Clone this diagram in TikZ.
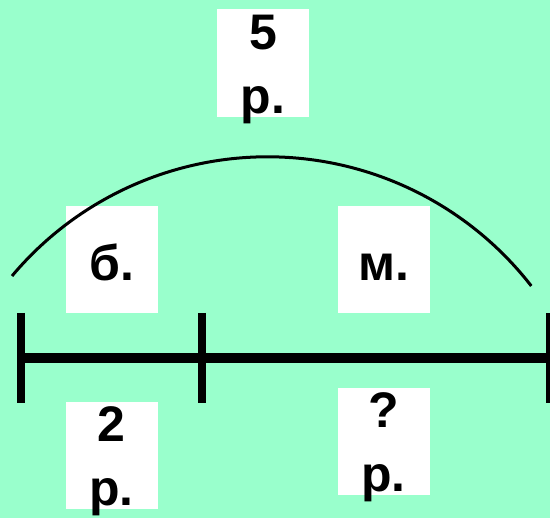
\documentclass[tikz,border=0pt]{standalone}
\usepackage{fontspec}
\setmainfont{Liberation Sans}
\usetikzlibrary{positioning}
\definecolor{mint}{RGB}{153,255,204}

\begin{document}
\begin{tikzpicture}[x=1pt,y=-1pt,
  box/.style={fill=white,minimum width=92pt,minimum height=107pt,inner sep=0pt},
  lbl/.style={font=\bfseries\fontsize{50}{64}\selectfont,align=center,inner sep=0pt},
  bar/.style={line width=10pt},
  tickline/.style={line width=8pt},
  arcline/.style={line width=3pt}]
  \fill[mint] (0,0) rectangle (550,518);
  \useasboundingbox (0,0) rectangle (550,518);

  % white boxes
  \node[box,minimum height=108pt] (whole) at (263,63) {};
  \node[box] (boots) at (111.5,259.5) {};
  \node[box] (ball) at (383.5,259.5) {};
  \node[box] (bootsprice) at (111.5,456) {};
  \node[box] (ballprice) at (383.5,441.5) {};

  % texts
  \node[lbl,anchor=north] (wholetxt) at ([yshift=-6pt]whole.north) {5\\р.};
  \node[lbl,anchor=base] (bootstxt) at ([yshift=33pt]boots.south) {б.};
  \node[lbl,anchor=base] (balltxt) at ([yshift=33pt]ball.south) {м.};
  \node[lbl,anchor=north] (bootspricetxt) at ([yshift=-4pt]bootsprice.north) {2\\р.};
  \node[lbl,anchor=north] (ballpricetxt) at ([yshift=-5pt]ballprice.north) {?\\р.};

  % segment
  \coordinate (a) at (21,358);
  \coordinate (m) at (202,358);
  \coordinate (b) at (550,358);
  \draw[bar] (a) -- (b);
  \foreach \p in {a,m,b}
    \draw[tickline] (\p) ++(0,-45) -- ++(0,90);

  % arc over the whole
  \coordinate (arcL) at (12,276);
  \draw[arcline] (arcL) arc[start angle=-140,end angle=-37.8,radius=333.7];
\end{tikzpicture}
\end{document}
